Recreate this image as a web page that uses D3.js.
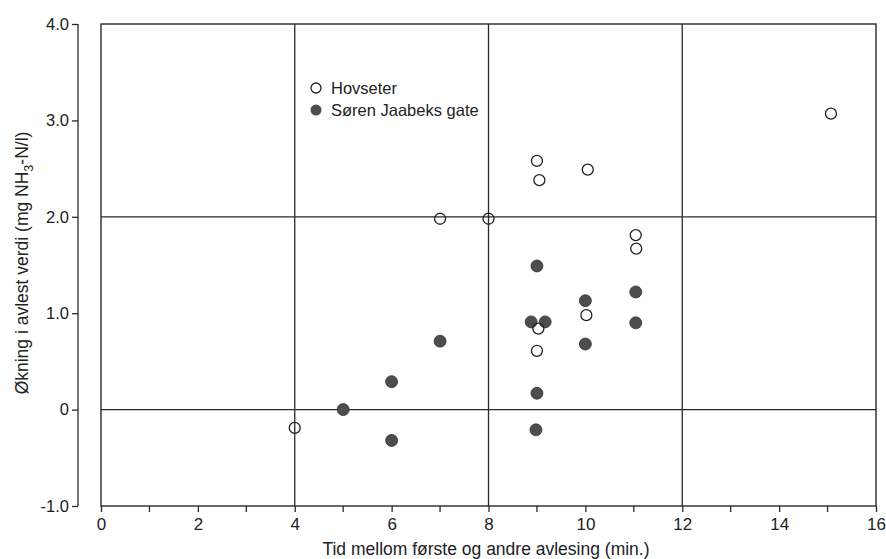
<!DOCTYPE html>
<html><head><meta charset="utf-8">
<script src="https://cdn.jsdelivr.net/npm/d3@7"></script>
<style>
html,body{margin:0;padding:0;background:#fff;}
svg{display:block;font-family:"Liberation Sans",Arial,sans-serif;}
</style></head>
<body>
<svg id="c" width="886" height="559"></svg>
<script>
// Data
const seriesNames = ["Hovseter", "Søren Jaabeks gate"];
const hovX = [4, 7, 8, 9, 9.05, 10.05, 9.03, 9, 10.02, 11.04, 11.05, 15.07];
const hovY = [-0.19, 1.98, 1.98, 2.58, 2.38, 2.49, 0.84, 0.61, 0.98, 1.81, 1.67, 3.07];
const sorX = [5, 6, 6, 7, 8.88, 9.17, 9, 9, 8.98, 10, 10, 11.04, 11.04];
const sorY = [0, 0.29, -0.32, 0.71, 0.91, 0.91, 1.49, 0.17, -0.21, 1.13, 0.68, 1.22, 0.9];
const xTicks = [0, 2, 4, 6, 8, 10, 12, 14, 16];
const xMinorTicks = [1, 3, 5, 7, 9, 11, 13, 15];
const yTicks = [-1, 0, 1, 2, 3, 4];
const yTickLabels = ["-1.0", "0", "1.0", "2.0", "3.0", "4.0"];
const xGrid = [4, 8, 12];
const yGrid = [0, 2];
const xTitle = "Tid mellom første og andre avlesing (min.)";

const svg = d3.select("#c");
const x = d3.scaleLinear().domain([0, 16]).range([101, 876]);
const y = d3.scaleLinear().domain([-1, 4]).range([506, 24]);
const ink = "#2a2a2a";
const txt = "#222";

// frame
svg.append("rect").attr("x", x(0)).attr("y", y(4))
  .attr("width", x(16) - x(0)).attr("height", y(-1) - y(4))
  .attr("fill", "none").attr("stroke", ink).attr("stroke-width", 1.4);

// grid
svg.selectAll("line.gx").data(xGrid).join("line")
  .attr("x1", d => x(d)).attr("x2", d => x(d)).attr("y1", y(4)).attr("y2", y(-1))
  .attr("stroke", ink).attr("stroke-width", 1.3);
svg.selectAll("line.gy").data(yGrid).join("line")
  .attr("x1", x(0)).attr("x2", x(16)).attr("y1", d => y(d)).attr("y2", d => y(d))
  .attr("stroke", ink).attr("stroke-width", 1.3);

// x axis
const xAxis = d3.axisBottom(x).tickValues(xTicks).tickSize(6).tickPadding(6).tickFormat(d3.format("d"));
const gx = svg.append("g").attr("transform", `translate(0,${y(-1)})`).call(xAxis);
gx.select(".domain").remove();
gx.selectAll(".tick line").attr("stroke", ink).attr("stroke-width", 1.3);
gx.selectAll(".tick text").attr("font-size", 17).attr("fill", txt)
  .attr("font-family", "Liberation Sans, Arial, sans-serif");
svg.append("g").selectAll("line").data(xMinorTicks).join("line")
  .attr("x1", d => x(d)).attr("x2", d => x(d)).attr("y1", y(-1)).attr("y2", y(-1) + 6)
  .attr("stroke", ink).attr("stroke-width", 1.3);

// y axis (offset)
const yAxis = d3.axisLeft(y).tickValues(yTicks).tickSize(6).tickPadding(3)
  .tickFormat((d, i) => yTickLabels[i]);
const gy = svg.append("g").attr("transform", "translate(78,0)").call(yAxis);
gy.select(".domain").attr("stroke", ink).attr("stroke-width", 1.3).attr("d", `M0,${y(4)}V${y(-1)}`);
gy.selectAll(".tick line").attr("stroke", ink).attr("stroke-width", 1.3);
gy.selectAll(".tick text").attr("font-size", 16.5).attr("fill", txt)
  .attr("font-family", "Liberation Sans, Arial, sans-serif");

// axis titles
svg.append("text").attr("x", 486).attr("y", 555).attr("text-anchor", "middle")
  .attr("font-size", 17.5).attr("fill", txt).text(xTitle);
const yt = svg.append("text").attr("transform", "translate(28,263) rotate(-90)")
  .attr("text-anchor", "middle").attr("font-size", 17.5).attr("fill", txt);
yt.append("tspan").text("Økning i avlest verdi (mg NH");
yt.append("tspan").attr("font-size", 12.5).attr("dy", 5).text("3");
yt.append("tspan").attr("dy", -5).text("-N/l)");

// points
const hov = hovX.map((d, i) => [d, hovY[i]]);
const sor = sorX.map((d, i) => [d, sorY[i]]);
svg.append("g").selectAll("circle").data(sor).join("circle")
  .attr("cx", d => x(d[0])).attr("cy", d => y(d[1])).attr("r", 6)
  .attr("fill", "#4d4d4d").attr("stroke", "#333").attr("stroke-width", 0.8);
svg.append("g").selectAll("circle").data(hov).join("circle")
  .attr("cx", d => x(d[0])).attr("cy", d => y(d[1])).attr("r", 5.5)
  .attr("fill", "none").attr("stroke", "#222").attr("stroke-width", 1.3);

// legend
const leg = svg.append("g");
leg.append("circle").attr("cx", 316).attr("cy", 88).attr("r", 5)
  .attr("fill", "#fff").attr("stroke", "#222").attr("stroke-width", 1.3);
leg.append("circle").attr("cx", 316).attr("cy", 110).attr("r", 5.5).attr("fill", "#4d4d4d");
leg.append("text").attr("x", 331).attr("y", 94).attr("font-size", 16.5).attr("fill", txt).text(seriesNames[0]);
leg.append("text").attr("x", 331).attr("y", 116).attr("font-size", 16.5).attr("fill", txt).text(seriesNames[1]);
</script>
</body></html>
